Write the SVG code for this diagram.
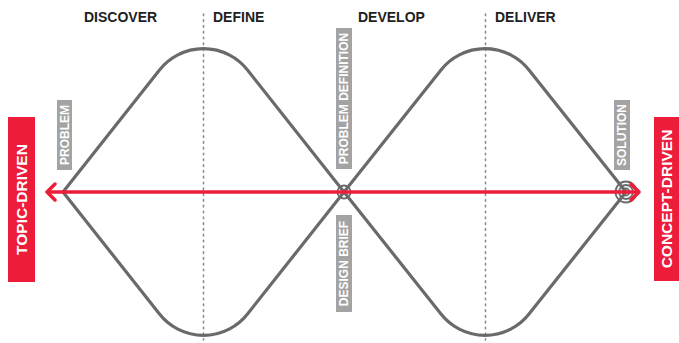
<svg xmlns="http://www.w3.org/2000/svg" width="679" height="343" viewBox="0 0 679 343">
  <defs>
    <style>
      .phase { font-family: "Liberation Sans", Arial, sans-serif; font-weight: bold; font-size: 14px; fill: #1e1e1e; }
      .guide { stroke: #8c8c8c; stroke-width: 1.6; stroke-dasharray: 1.6 4.2; stroke-linecap: round; fill: none; }
      .diamond { fill: none; stroke: #6a6a6a; stroke-width: 3.2; stroke-linejoin: round; }
      .tag { fill: #a3a3a3; }
      .tagtext { font-family: "Liberation Sans", Arial, sans-serif; font-weight: bold; font-size: 12px; fill: #ffffff; text-anchor: middle; }
      .side { fill: #ec1c3a; }
      .sidetext { font-family: "Liberation Sans", Arial, sans-serif; font-weight: bold; font-size: 15.5px; fill: #ffffff; text-anchor: middle; }
      .ring { fill: none; stroke: #6a6a6a; stroke-width: 1.8; }
      .arrow { stroke: #ec1c3a; stroke-width: 3.5; fill: none; }
    </style>
    <marker id="head" markerUnits="userSpaceOnUse" markerWidth="14" markerHeight="20" viewBox="0 0 14 20" refX="11" refY="10" orient="auto-start-reverse">
      <path d="M3,2 L11,10 L3,18" fill="none" stroke="#ec1c3a" stroke-width="3.5" stroke-linecap="round" stroke-linejoin="round"/>
    </marker>
  </defs>
  <rect width="679" height="343" fill="#ffffff"/>

  <g id="phases">
    <text class="phase" x="84" y="22">DISCOVER</text>
    <text class="phase" x="213" y="22">DEFINE</text>
    <text class="phase" x="358" y="22">DEVELOP</text>
    <text class="phase" x="495" y="22">DELIVER</text>
  </g>

  <g id="guides">
    <line class="guide" x1="203.5" y1="14" x2="203.5" y2="340"/>
    <line class="guide" x1="485.5" y1="14" x2="485.5" y2="340"/>
  </g>

  <g id="diamond-1">
    <path class="diamond" d="M63,192 L159.5,70 A56,56 0 0 1 247.5,70 L344,192 L247.5,314 A56,56 0 0 1 159.5,314 Z"/>
  </g>
  <g id="diamond-2">
    <path class="diamond" d="M344,192 L441,70 A56,56 0 0 1 529,70 L626,192 L529,314 A56,56 0 0 1 441,314 Z"/>
  </g>

  <g id="node-problem">
    <rect class="tag" x="57" y="100" width="15" height="70"/>
    <text class="tagtext" transform="translate(64.5,135) rotate(-90)" y="4.3">PROBLEM</text>
  </g>
  <g id="node-problem-definition">
    <rect class="tag" x="336" y="28" width="16" height="141"/>
    <text class="tagtext" transform="translate(344,98.5) rotate(-90)" y="4.3">PROBLEM DEFINITION</text>
  </g>
  <g id="node-design-brief">
    <rect class="tag" x="336" y="215" width="16" height="97"/>
    <text class="tagtext" transform="translate(344,263.5) rotate(-90)" y="4.3">DESIGN BRIEF</text>
  </g>
  <g id="node-solution">
    <rect class="tag" x="614" y="100" width="16" height="70"/>
    <text class="tagtext" transform="translate(622,135) rotate(-90)" y="4.3">SOLUTION</text>
  </g>

  <g id="node-center">
    <circle class="ring" cx="344" cy="192" r="6.5"/>
  </g>
  <g id="node-target">
    <circle class="ring" cx="626" cy="192" r="3.5"/>
    <circle class="ring" cx="626" cy="192" r="7"/>
    <circle class="ring" cx="626" cy="192" r="10.5"/>
  </g>

  <g id="node-topic-driven">
    <rect class="side" x="8" y="117" width="27" height="165"/>
    <text class="sidetext" transform="translate(21.5,199.5) rotate(-90)" y="5.6">TOPIC-DRIVEN</text>
  </g>
  <g id="node-concept-driven">
    <rect class="side" x="654" y="117" width="25" height="164"/>
    <text class="sidetext" transform="translate(666.5,199) rotate(-90)" y="5.6">CONCEPT-DRIVEN</text>
  </g>

  <g id="connectors">
    <line class="arrow" x1="47" y1="192" x2="639" y2="192" marker-start="url(#head)" marker-end="url(#head)"/>
  </g>
</svg>
